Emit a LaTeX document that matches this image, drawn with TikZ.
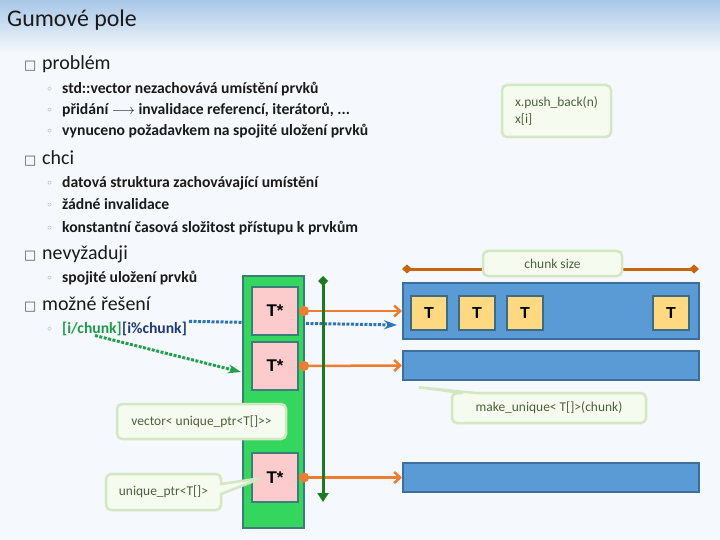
\documentclass[tikz,border=0pt]{standalone}
\usepackage{fontspec}
\setmainfont{Carlito}
\newfontfamily\symfont{DejaVu Sans}
\newfontfamily\cellfont{Liberation Sans}
\usepackage{xcolor}
\usetikzlibrary{arrows.meta,positioning,shapes.callouts}

\definecolor{bgc}{HTML}{F5F8FC}
\definecolor{titletop}{HTML}{A8C7E7}
\definecolor{ink}{HTML}{1A1A1A}
\definecolor{markgray}{HTML}{555555}
\definecolor{markblue}{HTML}{7F95B0}
\definecolor{idxgreen}{HTML}{1F9A4A}
\definecolor{idxblue}{HTML}{1F3A7A}
\definecolor{vecgreen}{HTML}{35D65D}
\definecolor{cellline}{HTML}{3E7B7C}
\definecolor{ptrpink}{HTML}{FCCCCC}
\definecolor{chunkblue}{HTML}{5B9BD5}
\definecolor{chunkedge}{HTML}{3E6E9C}
\definecolor{elemyellow}{HTML}{FFD982}
\definecolor{elemedge}{HTML}{3D6B80}
\definecolor{ptrorange}{HTML}{ED7D31}
\definecolor{sizeline}{HTML}{C5660F}
\definecolor{idxline}{HTML}{1E7A1E}
\definecolor{dotblue}{HTML}{2E75B6}
\definecolor{dotgreen}{HTML}{21A04E}
\definecolor{notefill}{HTML}{F5FCEF}
\definecolor{noteedge}{HTML}{D3E7C2}
\definecolor{notetext}{HTML}{4E5E3E}

\begin{document}
\begin{tikzpicture}[
    x=1bp, y=-1bp,
    heading/.style={anchor=base west, inner sep=0, text=ink, font=\fontsize{24}{28}\selectfont},
    item/.style={anchor=base west, inner sep=0, text=ink, font=\fontsize{20}{24}\selectfont},
    subitem/.style={anchor=base west, inner sep=0, text=ink, font=\fontsize{15.7}{18}\selectfont\bfseries},
    mainmark/.style={anchor=base west, inner sep=0, text=markgray, font=\symfont\fontsize{13}{13}\selectfont},
    submark/.style={anchor=base west, inner sep=0, text=markblue, font=\symfont\fontsize{12}{12}\selectfont},
    vecbox/.style={rectangle, draw=cellline, line width=2bp, fill=vecgreen, inner sep=0},
    ptrcell/.style={rectangle, draw=cellline, line width=2bp, fill=ptrpink, inner sep=0, minimum width=46bp, minimum height=48bp, font=\cellfont\bfseries\fontsize{17}{17}\selectfont},
    chunkbox/.style={rectangle, draw=chunkedge, line width=2bp, fill=chunkblue, inner sep=0, minimum width=296bp},
    elem/.style={rectangle, draw=elemedge, line width=2bp, fill=elemyellow, inner sep=0, minimum width=36bp, minimum height=34bp, font=\cellfont\bfseries\fontsize{16}{16}\selectfont},
    note/.style={draw=noteedge, line width=2.5bp, fill=notefill, rounded corners=5bp, inner sep=0, text=notetext, font=\fontsize{13.5}{17}\selectfont},
    ptrarrow/.style={draw=ptrorange, line width=2.5bp, {Circle[length=10bp]}-{Straight Barb[length=6bp,width=11bp]}},
    dotarrow/.style={line width=3bp, dash pattern=on 3bp off 1.5bp, -{Stealth[length=13bp,width=9bp]}}
]
\useasboundingbox (0,0) rectangle (720,540);
\fill[bgc] (0,0) rectangle (720,540);
\shade[top color=titletop, bottom color=bgc] (0,0) rectangle (720,52);

% Title
\node[heading] (ttl) at (7,27) {Gumové pole};

% problém
\node[mainmark] (mk1) at (24,70) {□};
\node[item] (i1) at (42,70) {problém};
\node[submark] (sk11) at (46,94) {◦};
\node[subitem] (s11) at (62,94) {std::vector nezachovává umístění prvků};
\node[submark] (sk12) at (46,115) {◦};
\node[subitem] (s12) at (62,115) {přidání $\longrightarrow$ invalidace referencí, iterátorů, ...};
\node[submark] (sk13) at (46,136) {◦};
\node[subitem] (s13) at (62,136) {vynuceno požadavkem na spojité uložení prvků};

% chci
\node[mainmark] (mk2) at (24,165) {□};
\node[item] (i2) at (42,165) {chci};
\node[submark] (sk21) at (46,188) {◦};
\node[subitem] (s21) at (62,188) {datová struktura zachovávající umístění};
\node[submark] (sk22) at (46,210) {◦};
\node[subitem] (s22) at (62,210) {žádné invalidace};
\node[submark] (sk23) at (46,233) {◦};
\node[subitem] (s23) at (62,233) {konstantní časová složitost přístupu k prvkům};

% nevyžaduji
\node[mainmark] (mk3) at (24,260) {□};
\node[item] (i3) at (42,260) {nevyžaduji};
\node[submark] (sk31) at (46,283) {◦};
\node[subitem] (s31) at (62,283) {spojité uložení prvků};

% možné řešení
\node[mainmark] (mk4) at (24,310) {□};
\node[item] (i4) at (42,310) {možné řešení};
\node[submark] (sk41) at (46,333) {◦};
\node[subitem, text=idxgreen] (idx1) at (62,333) {[i/chunk]};
\node[subitem, text=idxblue, anchor=base west] (idx2) at (idx1.base east) {[i\%chunk]};

% index arrows (behind the vector)
\coordinate (bend) at (397,325);
\coordinate (gend) at (241,372);
\draw[dotarrow, dotblue] ([xshift=2bp]idx2.north east) -- (bend);
\draw[dotarrow, dotgreen] ([xshift=33bp]idx1.south west) -- (gend);

% vector of pointers
\node[vecbox, minimum width=61bp, minimum height=252bp] (vec) at (273.5,402) {};
\node[ptrcell] (p1) at (275,311) {T*};
\node[ptrcell] (p2) at (275,366) {T*};
\node[ptrcell, minimum height=49bp] (p3) at (275,477.5) {T*};

% chunks
\node[chunkbox, minimum height=56bp] (b1) at (551,311) {};
\node[chunkbox, minimum height=29bp] (b2) at (551,365.5) {};
\node[chunkbox, minimum height=29bp] (b3) at (551,477.5) {};
\node[elem] (t1) at (429,313) {T};
\node[elem] (t2) at (477,313) {T};
\node[elem] (t3) at (525,313) {T};
\node[elem] (t4) at (671,313) {T};

% pointers
\draw[ptrarrow] (p1.east) -- (b1.west);
\draw[ptrarrow] (p2.east) -- (b2.west);
\draw[ptrarrow] (p3.east) -- (b3.west);

% index range
\coordinate (gtop) at (323,276);
\coordinate (gbot) at (323,502);
\draw[idxline, line width=3bp, {Diamond[length=10bp,width=10bp]}-{Triangle[length=9bp,width=11bp]}] (gtop) -- (gbot);

% chunk size
\coordinate (cl) at (402,269);
\coordinate (cr) at (699,269);
\draw[sizeline, line width=3bp, {Diamond[length=10bp,width=9bp]}-{Diamond[length=10bp,width=9bp]}] (cl) -- (cr);
\node[note, minimum width=139bp, minimum height=25bp] (csize) at (552.5,263.5) {chunk size};

% notes
\node[note, minimum width=109bp, minimum height=52bp, align=left] (ops) at (556.5,111) {x.push\_back(n)\\x[i]};
\node[note, minimum width=169bp, minimum height=35bp] (vtype) at (201.5,421.5) {vector< unique\_ptr<T[]>{}>};
\node[note, rectangle callout, callout absolute pointer={(262,478)}, callout pointer width=10bp, minimum width=115bp, minimum height=36bp] (ptype) at (163.5,492) {unique\_ptr<T[]>};
\node[note, rectangle callout, callout absolute pointer={(416,387)}, callout pointer width=12bp, minimum width=194bp, minimum height=30bp] (mk) at (549,408) {make\_unique< T[]>(chunk)};

\end{tikzpicture}
\end{document}
